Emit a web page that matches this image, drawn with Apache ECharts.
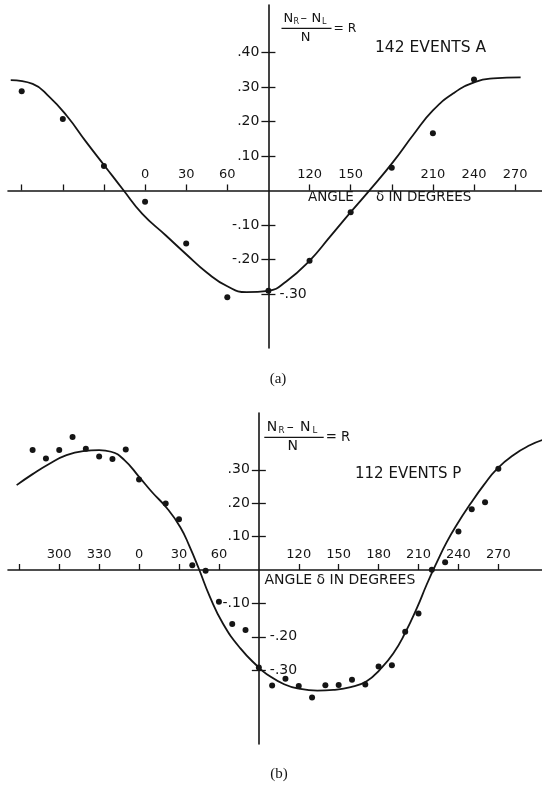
<!DOCTYPE html>
<html>
<head>
<meta charset="utf-8">
<script src="https://cdn.jsdelivr.net/npm/echarts@6/dist/echarts.min.js"></script>
<style>
  html, body { margin: 0; padding: 0; background: #fff; }
  #chart { width: 542px; height: 787px; }
</style>
</head>
<body>
<div id="chart"></div>
<script>
// Angle delta in degrees, unwrapped: 270, 300, 330 left of 0 are stored as -90, -60, -30.
// Panel (a): 142 events A
const anglesA = [-90, -60, -30, 0, 30, 60, 90, 120, 150, 180, 210, 240];
const ratioA  = [0.288, 0.207, 0.071, -0.033, -0.154, -0.310, -0.291, -0.204, -0.063, 0.066, 0.166, 0.322];
// fitted curve for (a)
const fitAnglesA = [-98, -82, -70, -57, -43, -29, -16, -2, 15, 30, 45, 60, 74, 90, 103, 120, 135, 150, 165, 181, 196, 210, 225, 241, 254, 274];
const fitRatioA  = [0.320, 0.309, 0.272, 0.216, 0.141, 0.069, 0.002, -0.068, -0.130, -0.185, -0.238, -0.278, -0.295, -0.291, -0.264, -0.204, -0.134, -0.063, 0.006, 0.083, 0.163, 0.232, 0.282, 0.315, 0.325, 0.328];

// Panel (b): 112 events P
const anglesP = [-80, -70, -60, -50, -40, -30, -20, -10, 0, 20, 30, 40, 50, 60, 70, 80, 90, 100, 110, 120,
                 130, 140, 150, 160, 170, 180, 190, 200, 210, 220, 230, 240, 250, 260, 270];
const ratioP  = [0.359, 0.334, 0.359, 0.398, 0.363, 0.340, 0.332, 0.361, 0.271, 0.199, 0.152, 0.014, -0.002, -0.095, -0.162, -0.180, -0.292, -0.346, -0.326, -0.347,
                 -0.382, -0.345, -0.344, -0.329, -0.343, -0.289, -0.285, -0.185, -0.130, 0.001, 0.023, 0.115, 0.182, 0.203, 0.303];
// fitted curve for (b)
const fitAnglesP = [-92, -80, -67, -55, -42, -30, -21, -11, 0, 10, 21, 31, 38, 45, 53, 63, 76, 90, 96, 109, 121, 134, 146, 159, 171, 181, 191, 200, 209, 216, 224, 231, 239, 249, 259, 269, 282, 294, 303];
const fitRatioP  = [0.254, 0.287, 0.319, 0.343, 0.356, 0.359, 0.354, 0.329, 0.279, 0.232, 0.185, 0.128, 0.070, 0.003, -0.078, -0.160, -0.234, -0.292, -0.312, -0.342, -0.356, -0.361, -0.359, -0.351, -0.333, -0.298, -0.250, -0.188, -0.112, -0.045, 0.025, 0.082, 0.137, 0.198, 0.254, 0.303, 0.346, 0.374, 0.389];

// Tick marks and labelled ticks on the angle axes
const angleTicksA  = [-90, -60, -30, 0, 30, 60, 120, 150, 180, 210, 240, 270];
const angleLabelsA = [0, 30, 60, 120, 150, 210, 240, 270];
const angleTicksP  = [-90, -60, -30, 0, 30, 60, 120, 150, 180, 210, 240, 270];
const angleLabelsP = [-60, -30, 0, 30, 60, 120, 150, 180, 210, 240, 270];

// Ticks on the R axes; labels sit left or right of the axis
const rTicksA  = [0.4, 0.3, 0.2, 0.1, -0.1, -0.2, -0.3];
const rLeftA   = [0.4, 0.3, 0.2, 0.1, -0.1, -0.2];
const rRightA  = [-0.3];
const rTicksP  = [0.3, 0.2, 0.1, -0.1, -0.2, -0.3];
const rLeftP   = [0.3, 0.2, 0.1, -0.1];
const rRightP  = [-0.2, -0.3];

// The R axis stands at delta = 90, so x is plotted as delta - 90
const CROSS = 90;
const shift = v => v - CROSS;
const FONT = 'DejaVu Sans';
const INK = '#151515';

const W = 542, GRID_LEFT = 8, GRID_W = W - GRID_LEFT;

const panels = [
  { xMin: -100, xMax: 289.6, yMin: -0.457, yMax: 0.538, top: 5, height: 343,
    angles: anglesA, ratio: ratioA, fitX: fitAnglesA, fitY: fitRatioA,
    ticks: angleTicksA, labels: angleLabelsA, rTicks: rTicksA, rLeft: rLeftA, rRight: rRightA,
    rightPad: [8, 0, 0, 0] },
  { xMin: -98.5, xMax: 302.8, yMin: -0.521, yMax: 0.470, top: 413, height: 331,
    angles: anglesP, ratio: ratioP, fitX: fitAnglesP, fitY: fitRatioP,
    ticks: angleTicksP, labels: angleLabelsP, rTicks: rTicksP, rLeft: rLeftP, rRight: rRightP,
    rightPad: [0, 0, 0, 0] }
];

const fmtAngle = v => String((((v + CROSS) % 360) + 360) % 360);
const fmtR = v => (v < 0 ? '-' : '') + '.' + String(Math.round(Math.abs(v) * 100)).padStart(2, '0');

const grid = [], xAxis = [], yAxis = [], series = [];
panels.forEach((p, i) => {
  grid.push({ left: GRID_LEFT, width: GRID_W, top: p.top, height: p.height,
              containLabel: false, outerBoundsMode: 'none' });
  // axes cross at R = 0 and delta = 90: place them by pixel offset from the grid edges
  const zeroUp = (0 - p.yMin) / (p.yMax - p.yMin) * p.height;
  const crossPx = (0 - shift(p.xMin)) / (p.xMax - p.xMin) * GRID_W;
  xAxis.push({
    type: 'value', gridIndex: i, position: 'bottom', offset: -zeroUp,
    min: shift(p.xMin), max: shift(p.xMax),
    axisLine: { onZero: false, lineStyle: { color: INK, width: 1.6 } },
    axisTick: { inside: true, length: 6, customValues: p.ticks.map(shift), lineStyle: { color: INK, width: 1.3 } },
    axisLabel: { inside: true, margin: 9, customValues: p.labels.map(shift), formatter: fmtAngle,
                 color: INK, fontFamily: FONT, fontSize: 13 },
    splitLine: { show: false }
  });
  // R axis with labels on the left, ticks pointing left
  yAxis.push({
    type: 'value', gridIndex: i, position: 'left', offset: -crossPx, min: p.yMin, max: p.yMax,
    axisLine: { onZero: false, lineStyle: { color: INK, width: 1.6 } },
    axisTick: { inside: false, length: 7, customValues: p.rTicks, lineStyle: { color: INK, width: 1.3 } },
    axisLabel: { margin: 9, customValues: p.rLeft, formatter: fmtR, color: INK, fontFamily: FONT, fontSize: 14 },
    splitLine: { show: false }
  });
  // same R axis: ticks pointing right and the labels set on the right
  yAxis.push({
    type: 'value', gridIndex: i, position: 'left', offset: -crossPx, min: p.yMin, max: p.yMax,
    axisLine: { show: false, onZero: false },
    axisTick: { inside: true, length: 7, customValues: p.rTicks, lineStyle: { color: INK, width: 1.3 } },
    axisLabel: { inside: true, margin: 11, customValues: p.rRight, formatter: fmtR, color: INK,
                 fontFamily: FONT, fontSize: 14, padding: p.rightPad },
    splitLine: { show: false }
  });
  series.push({
    type: 'line', xAxisIndex: i, yAxisIndex: 2 * i, smooth: 0.5,
    showSymbol: false, silent: true,
    data: p.fitX.map((a, k) => [shift(a), p.fitY[k]]),
    lineStyle: { color: INK, width: 1.8 }, z: 3
  });
  series.push({
    type: 'scatter', xAxisIndex: i, yAxisIndex: 2 * i, symbol: 'circle', symbolSize: 6,
    data: p.angles.map((a, k) => [shift(a), p.ratio[k]]),
    itemStyle: { color: INK, opacity: 1 }, z: 4
  });
});

// text helpers
function txt(text, x, y, size, opts) {
  return Object.assign({ type: 'text', x: x, y: y, z: 10,
    style: { text: text, fill: INK, fontFamily: FONT, fontSize: size, align: 'left', verticalAlign: 'middle' } },
    opts || {});
}
function styled(el, extra) { Object.assign(el.style, extra); return el; }

// (N_R - N_L) / N = R, bar starting at (x0, y0) with width w
function fraction(x0, y0, w, fs) {
  const k = w / 50;
  const ny = y0 - 9.5, sy = y0 - 6.5;
  return [
    txt('N', x0 + 2 * k, ny, fs),
    txt('R', x0 + 12 * k, sy, fs * 0.62),
    txt('\u2013', x0 + 19 * k, ny, fs),
    txt('N', x0 + 30 * k, ny, fs),
    txt('L', x0 + 40.5 * k, sy, fs * 0.62),
    { type: 'line', z: 10, shape: { x1: x0, y1: y0, x2: x0 + w, y2: y0 }, style: { stroke: INK, lineWidth: 1.2 } },
    styled(txt('N', x0 + 24 * k, y0 + 9.5, fs), { align: 'center' }),
    txt('= R', x0 + w + 2, y0 + 0.5, fs * 0.95)
  ];
}

const graphic = [].concat(
  fraction(281.5, 28.3, 50, 13),
  [txt('142 EVENTS A', 375, 48, 15.5)],
  [txt('ANGLE', 308, 197, 13.5), txt('\u03B4 IN DEGREES', 376, 197, 13.5)],
  [styled(txt('(a)', 278, 379, 15), { fontFamily: 'Liberation Serif', align: 'center' })],
  fraction(264.3, 437.3, 59.4, 14),
  [txt('112 EVENTS P', 355, 474, 15)],
  [txt('ANGLE \u03B4 IN DEGREES', 264.5, 580, 14)],
  [styled(txt('(b)', 279, 774, 15), { fontFamily: 'Liberation Serif', align: 'center' })]
);

const chart = echarts.init(document.getElementById('chart'), null, { renderer: 'canvas' });
chart.setOption({
  backgroundColor: '#fff',
  animation: false,
  grid: grid,
  xAxis: xAxis,
  yAxis: yAxis,
  series: series,
  graphic: graphic
});
</script>
</body>
</html>
